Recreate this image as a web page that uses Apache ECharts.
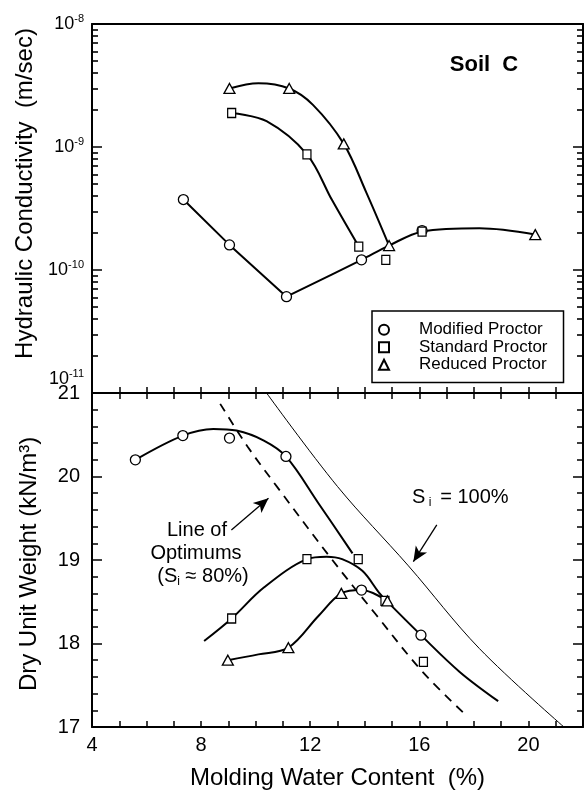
<!DOCTYPE html>
<html>
<head>
<meta charset="utf-8">
<script src="https://cdn.jsdelivr.net/npm/echarts@6/dist/echarts.min.js"></script>
<style>
  html, body { margin: 0; padding: 0; background: #fff; }
  #chart { width: 588px; height: 796px; }
</style>
</head>
<body>
<div id="chart"></div>
<script>
const FONT = '"Liberation Sans", Arial, Helvetica, sans-serif';

// ---- top panel: hydraulic conductivity (m/sec) vs molding water content (%)
const topModified = [[7.35, 3.74e-10], [9.04, 1.6e-10], [11.13, 6.07e-11], [13.88, 1.21e-10], [16.1, 2.09e-10]];
const topStandard = [[9.12, 1.89e-9], [11.88, 8.71e-10], [13.78, 1.55e-10], [14.77, 1.21e-10], [16.1, 2.05e-10]];
const topReduced = [[9.04, 2.99e-9], [11.23, 2.99e-9], [13.23, 1.06e-9], [14.89, 1.58e-10], [20.25, 1.94e-10]];

// hand-drawn curves of the top panel
const topModDry = [[7.35, 3.74e-10], [9.04, 1.6e-10], [11.13, 6.07e-11]];
const topModWet = [[11.13, 6.07e-11], [13.88, 1.21e-10], [14.89, 1.58e-10], [16.1, 2.05e-10], [18.2, 2.18e-10], [20.25, 1.94e-10]];
const topStdCurve = [[9.12, 1.89e-9], [10.4, 1.62e-9], [11.88, 8.71e-10], [12.8, 3.7e-10], [13.78, 1.55e-10]];
const topRedCurve = [[9.04, 2.99e-9], [10.1, 3.3e-9], [11.23, 2.99e-9], [12.1, 2.2e-9], [13.23, 1.06e-9], [14.05, 4.3e-10], [14.89, 1.58e-10]];

// ---- bottom panel: dry unit weight (kN/m3)
const botModified = [[5.59, 20.2], [7.33, 20.49], [9.04, 20.46], [11.11, 20.24], [13.88, 18.64], [16.06, 18.1]];
const botStandard = [[9.12, 18.3], [11.88, 19.01], [13.76, 19.01], [14.74, 18.51], [16.15, 17.78]];
const botReduced = [[8.98, 17.8], [11.2, 17.95], [13.14, 18.6], [14.83, 18.51]];

const botModCurve = [[5.59, 20.2], [7.33, 20.49], [8.45, 20.57], [9.3, 20.55], [10.3, 20.43], [11.11, 20.24], [12.3, 19.68], [13.55, 19.08]];
const botStdCurve = [[8.11, 18.03], [9.12, 18.3], [10.3, 18.67], [11.88, 19.01], [12.6, 19.04], [13.17, 19.01], [13.91, 18.87], [14.52, 18.61], [14.8, 18.51], [16.06, 18.1], [17.48, 17.66], [18.89, 17.31]];
const botRedCurve = [[8.98, 17.8], [10.1, 17.87], [11.2, 17.95], [12.3, 18.33], [13.14, 18.6], [13.88, 18.64], [14.83, 18.51]];
const optimumLine = [[8.7, 20.87], [9.7, 20.36], [10.8, 19.87], [12.74, 19.03], [14.4, 18.35], [16.12, 17.66], [17.78, 17.12]];
const saturationLine = [[10.4, 21.0], [13.0, 19.88], [15.6, 18.93], [18.2, 17.94], [21.3, 17.0]];

const arrowOptimum = [[9.11, 19.36], [10.47, 19.74]];
const arrowSaturation = [[16.64, 19.42], [15.78, 18.98]];

const xTickLabels = [4, 8, 12, 16, 20];
const yTickLabels = [17, 18, 19, 20, 21];

const chart = echarts.init(document.getElementById("chart"));

const frameLine = { show: true, lineStyle: { color: "#000", width: 2 } };
const tickStyle = { color: "#000", width: 1.5 };
const supRich = {
  b: { fontFamily: FONT, fontSize: 18, color: "#000", lineHeight: 22, verticalAlign: "middle" },
  e: { fontFamily: FONT, fontSize: 11, color: "#000", lineHeight: 11, verticalAlign: "top" },
};
const subRich = {
  b: { fontFamily: FONT, fontSize: 20, color: "#000", lineHeight: 24, verticalAlign: "middle" },
  s: { fontFamily: FONT, fontSize: 12, color: "#000", lineHeight: 12, verticalAlign: "bottom" },
};

function curve(name, data, x, y, extra) {
  return Object.assign({
    name: name, type: "line", xAxisIndex: x, yAxisIndex: y, data: data,
    smooth: 0.35, symbol: "none", silent: true,
    lineStyle: { color: "#000", width: 2 }, z: 3,
  }, extra || {});
}

function marks(name, data, x, y, symbol, size) {
  return {
    name: name, type: "scatter", xAxisIndex: x, yAxisIndex: y, data: data,
    symbol: symbol, symbolSize: size,
    itemStyle: { color: "#fff", borderColor: "#000", borderWidth: 1.3, opacity: 1 },
    z: 6,
  };
}

function arrow(from, to) {
  return {
    silent: true, symbol: ["none", "arrow"], symbolSize: [10, 15],
    label: { show: false },
    lineStyle: { type: "solid", color: "#000", width: 1.3 },
    data: [[{ coord: from }, { coord: to }]],
  };
}

const option = {
  animation: false,
  backgroundColor: "#fff",
  textStyle: { fontFamily: FONT },
  grid: [
    { left: 92, top: 24, width: 491, height: 369 },
    { left: 92, top: 393, width: 491, height: 334 },
  ],
  legend: {
    data: ["Modified Proctor", "Standard Proctor", "Reduced Proctor"],
    orient: "vertical", left: 372, top: 311,
    padding: [10, 16, 9, 6], itemGap: 0, itemWidth: 10, itemHeight: 10,
    borderColor: "#000", borderWidth: 1.5, backgroundColor: "#fff",
    selectedMode: false,
    textStyle: { fontFamily: FONT, fontSize: 17, color: "#000", lineHeight: 17.5, padding: [0, 0, 0, 25] },
  },
  xAxis: [
    {
      gridIndex: 0, type: "value", min: 4, max: 22, interval: 1, position: "bottom",
      axisLine: frameLine, axisTick: { inside: true, length: 6, lineStyle: tickStyle },
      axisLabel: { show: false }, splitLine: { show: false },
    },
    {
      gridIndex: 0, type: "value", min: 4, max: 22, position: "top",
      axisLine: frameLine, axisTick: { show: false }, axisLabel: { show: false }, splitLine: { show: false },
    },
    {
      gridIndex: 1, type: "value", min: 4, max: 22, interval: 1, position: "bottom",
      axisLine: frameLine, axisTick: { inside: true, length: 6, lineStyle: tickStyle },
      axisLabel: {
        margin: 8, fontFamily: FONT, fontSize: 20, color: "#000",
        formatter: (v) => (xTickLabels.includes(v) ? String(v) : ""),
      },
      splitLine: { show: false },
      name: "Molding Water Content  (%)", nameLocation: "middle", nameGap: 39,
      nameTextStyle: { fontFamily: FONT, fontSize: 24, color: "#000" },
    },
    {
      gridIndex: 1, type: "value", min: 4, max: 22, interval: 1, position: "top",
      axisLine: frameLine, axisTick: { inside: true, length: 6, lineStyle: tickStyle },
      axisLabel: { show: false }, splitLine: { show: false },
    },
  ],
  yAxis: [
    {
      gridIndex: 0, type: "log", logBase: 10, min: 1e-11, max: 1e-8, splitNumber: 3, position: "left",
      axisLine: frameLine, axisTick: { inside: true, length: 10, lineStyle: tickStyle },
      minorTick: { show: true, splitNumber: 9, length: 6, lineStyle: { color: "#000", width: 1.6 } },
      axisLabel: {
        margin: 8, showMinLabel: false, rich: supRich,
        formatter: (v) => "{b|10}{e|" + Math.round(Math.log10(v)) + "}",
      },
      splitLine: { show: false },
      name: "Hydraulic Conductivity  (m/sec)", nameLocation: "middle", nameGap: 50,
      nameTextStyle: { fontFamily: FONT, fontSize: 24, color: "#000", padding: [0, 0, 0, 30] },
    },
    {
      gridIndex: 0, type: "log", logBase: 10, min: 1e-11, max: 1e-8, splitNumber: 3, position: "right",
      axisLine: frameLine, axisTick: { inside: true, length: 10, lineStyle: tickStyle },
      minorTick: { show: true, splitNumber: 9, length: 6, lineStyle: { color: "#000", width: 1.6 } },
      axisLabel: { show: false }, splitLine: { show: false },
    },
    {
      gridIndex: 1, type: "value", min: 17, max: 21, interval: 1, position: "left",
      axisLine: frameLine, axisTick: { inside: true, length: 10, lineStyle: tickStyle },
      minorTick: { show: true, splitNumber: 5, length: 6, lineStyle: tickStyle },
      axisLabel: {
        margin: 12, fontFamily: FONT, fontSize: 20, color: "#000",
        formatter: (v) => (yTickLabels.includes(v) ? String(v) : ""),
      },
      splitLine: { show: false },
      name: "Dry Unit Weight (kN/m³)", nameLocation: "middle", nameGap: 51,
      nameTextStyle: { fontFamily: FONT, fontSize: 24, color: "#000", padding: [0, 8, 0, 0] },
    },
    {
      gridIndex: 1, type: "value", min: 17, max: 21, interval: 1, position: "right",
      axisLine: frameLine, axisTick: { inside: true, length: 10, lineStyle: tickStyle },
      minorTick: { show: true, splitNumber: 5, length: 6, lineStyle: tickStyle },
      axisLabel: { show: false }, splitLine: { show: false },
    },
  ],
  series: [
    curve("topModDry", topModDry, 0, 0, { smooth: false }),
    curve("topModWet", topModWet, 0, 0),
    curve("topStdCurve", topStdCurve, 0, 0),
    curve("topRedCurve", topRedCurve, 0, 0),
    marks("Modified Proctor", topModified, 0, 0, "circle", 10),
    marks("Standard Proctor", topStandard, 0, 0, "rect", [8, 9]),
    marks("Reduced Proctor", topReduced, 0, 0, "triangle", [11, 10]),

    curve("botModCurve", botModCurve, 2, 2),
    curve("botStdCurve", botStdCurve, 2, 2),
    curve("botRedCurve", botRedCurve, 2, 2),
    curve("optimumLine", optimumLine, 2, 2, {
      lineStyle: { color: "#000", width: 1.8, type: [9, 7] },
      markLine: arrow(arrowOptimum[0], arrowOptimum[1]),
    }),
    curve("saturationLine", saturationLine, 2, 2, {
      lineStyle: { color: "#000", width: 1 },
      markLine: arrow(arrowSaturation[0], arrowSaturation[1]),
    }),
    marks("Modified Proctor", botModified, 2, 2, "circle", 10),
    marks("Standard Proctor", botStandard, 2, 2, "rect", [8, 9]),
    marks("Reduced Proctor", botReduced, 2, 2, "triangle", [11, 10]),
  ],
  graphic: [
    {
      type: "text", x: 84, y: 379, z: 10,
      style: { text: "{b|10}{e|-11}", rich: supRich, align: "right", verticalAlign: "middle", textAlign: "right", textVerticalAlign: "middle" },
    },
    {
      type: "text", x: 484, y: 65, z: 10,
      style: { text: "Soil  C", font: "bold 22px " + FONT, fill: "#000", align: "center", verticalAlign: "middle", textAlign: "center", textVerticalAlign: "middle" },
    },
    {
      type: "text", x: 197, y: 530, z: 10,
      style: { text: "Line of", font: "20px " + FONT, fill: "#000", align: "center", verticalAlign: "middle", textAlign: "center", textVerticalAlign: "middle" },
    },
    {
      type: "text", x: 196, y: 553, z: 10,
      style: { text: "Optimums", font: "20px " + FONT, fill: "#000", align: "center", verticalAlign: "middle", textAlign: "center", textVerticalAlign: "middle" },
    },
    {
      type: "text", x: 203, y: 576, z: 10,
      style: { text: "{b|(S}{s|i}{b| ≈ 80%)}", rich: subRich, align: "center", verticalAlign: "middle", textAlign: "center", textVerticalAlign: "middle" },
    },
    {
      type: "text", x: 412, y: 497, z: 10,
      style: { text: "{b|S}{s| i }{b| = 100%}", rich: subRich, align: "left", verticalAlign: "middle", textAlign: "left", textVerticalAlign: "middle" },
    },
  ],
};

chart.setOption(option);
</script>
</body>
</html>
